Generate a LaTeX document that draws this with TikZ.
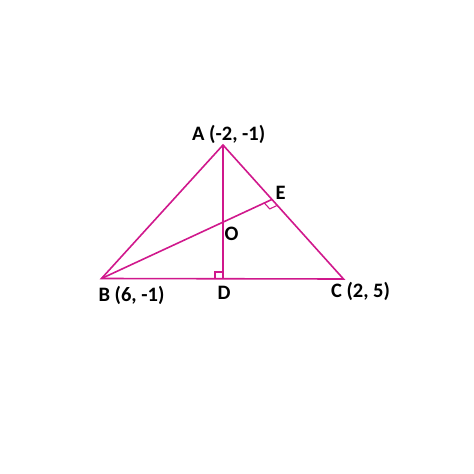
\documentclass[tikz,border=0pt]{standalone}
\usepackage{fontspec}
\setmainfont{Carlito}
\usetikzlibrary{calc}
\definecolor{mag}{RGB}{208,24,140}
\begin{document}
\begin{tikzpicture}[x=1pt,y=-1pt,
  edge/.style={draw=mag,line width=1.6pt},
  rtmark/.style={draw=mag,line width=1.1pt},
  lbl/.style={font=\fontsize{20.5}{24}\selectfont\bfseries,inner sep=0pt}]
\useasboundingbox (0,0) rectangle (474,474);
\coordinate (A) at (223,145);
\coordinate (B) at (101.5,278.5);
\coordinate (C) at (343.5,279);
\coordinate (D) at (223,279);
\coordinate (E) at (271.6,199.6);
\coordinate (O) at (223,222.3);
\draw[edge] (A) -- (B) -- (C) -- cycle;
\draw[edge] (A) -- (D);
\draw[edge] (B) -- (E);
% right angle marks
\coordinate (e1) at ($(E)!8pt!(B)$);
\coordinate (e2) at ($(E)!8pt!(C)$);
\draw[rtmark] (e1) -- ($(e1)+(e2)-(E)$) -- (e2);
\draw[rtmark] ($(D)+(-8,0)$) -- ($(D)+(-8,-7)$) -- ($(D)+(0,-7)$);
% labels
\node[lbl] (la) at (228.7,134.5) {A (-2, -1)};
\node[lbl] (le) at (280.5,193) {E};
\node[lbl] (lo) at (231.5,233.5) {O};
\node[lbl] (lb) at (131.5,295.5) {B (6, -1)};
\node[lbl] (ld) at (224,292.5) {D};
\node[lbl] (lc) at (360.5,291.5) {C (2, 5)};
\end{tikzpicture}
\end{document}
